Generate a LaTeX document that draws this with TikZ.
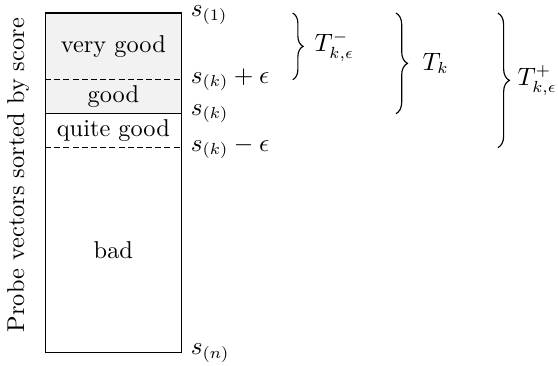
\documentclass[tikz,border=0pt]{standalone}
\usepackage{amsmath}
\usepackage{amssymb}
\usetikzlibrary{calc, positioning, decorations.pathreplacing}

\begin{document}
\begin{tikzpicture}[
			every node/.style={font=\fontsize{10.6}{12.7}\selectfont},
			lvl/.style={anchor=west, inner sep=1pt},
			region/.style={inner sep=1pt},
			sep/.style={dash pattern=on 2.6pt off 1.4pt, line width=0.4pt},
			brc/.style={decorate, decoration={brace, amplitude=#1}, line width=0.5pt},
			brc/.default=4.5pt,
			]
			\useasboundingbox (0,0) rectangle (8.54,5.6);
			
			% ── Column of sorted vectors ─────────────────────────────────────
			\coordinate (top)  at (0.69, 5.40);
			\coordinate (eps1) at (0.69, 4.38);
			\coordinate (sk)   at (0.69, 3.86);
			\coordinate (eps2) at (0.69, 3.34);
			\coordinate (bot)  at (0.69, 0.20);
			
			\fill[black!5] (top) rectangle ($(sk)+(2.09,0)$);
			\draw[sep] (eps1) -- ++(2.09,0) coordinate (eps1r);
			\draw[line width=0.5pt] (sk) -- ++(2.09,0) coordinate (skr);
			\draw[sep] (eps2) -- ++(2.09,0) coordinate (eps2r);
			\draw[line width=0.5pt] (top) rectangle ($(bot)+(2.09,0)$);
			\coordinate (topr) at ($(top)+(2.09,0)$);
			\coordinate (botr) at ($(bot)+(2.09,0)$);
			
			\node[region] (vgood) at ($(top)!0.5!(eps1r)$) {very good};
			\node[region] (good)  at ($(eps1)!0.5!(skr)$) {good};
			\node[region] (qgood) at ($(sk)!0.5!(eps2r)$) {quite good};
			\node[region] (bad)   at ($(eps2)!0.5!(botr)$) {bad};
			
			\node[rotate=90] (axis) at (0.28, 2.92) {Probe vectors sorted by score};
			
			% ── Score levels ─────────────────────────────────────────────────
			\node[lvl, right=0.1cm of topr, yshift=-1pt] (s1) {$s_{(1)}$};
			\node[lvl, right=0.1cm of eps1r] (skp) {$s_{(k)}+\epsilon$};
			\node[lvl, right=0.1cm of skr] (skk) {$s_{(k)}$};
			\node[lvl, right=0.1cm of eps2r] (skm) {$s_{(k)}-\epsilon$};
			\node[lvl, right=0.1cm of botr] (sn) {$s_{(n)}$};
			
			% ── Braces ───────────────────────────────────────────────────────
			\draw[brc] (4.48, 5.40) -- (4.48, 4.38)
			node[midway, anchor=west, xshift=6pt] (tminus) {$T^-_{k,\epsilon}$};
			\draw[brc=5pt] (6.06, 5.40) -- (6.06, 3.86)
			node[midway, anchor=west, xshift=8pt] (tk) {$T_k$};
			\draw[brc=5pt] (7.62, 5.40) -- (7.62, 3.34)
			node[midway, anchor=west, xshift=5pt] (tplus) {$T^+_{k,\epsilon}$};
			
		\end{tikzpicture}
\end{document}
